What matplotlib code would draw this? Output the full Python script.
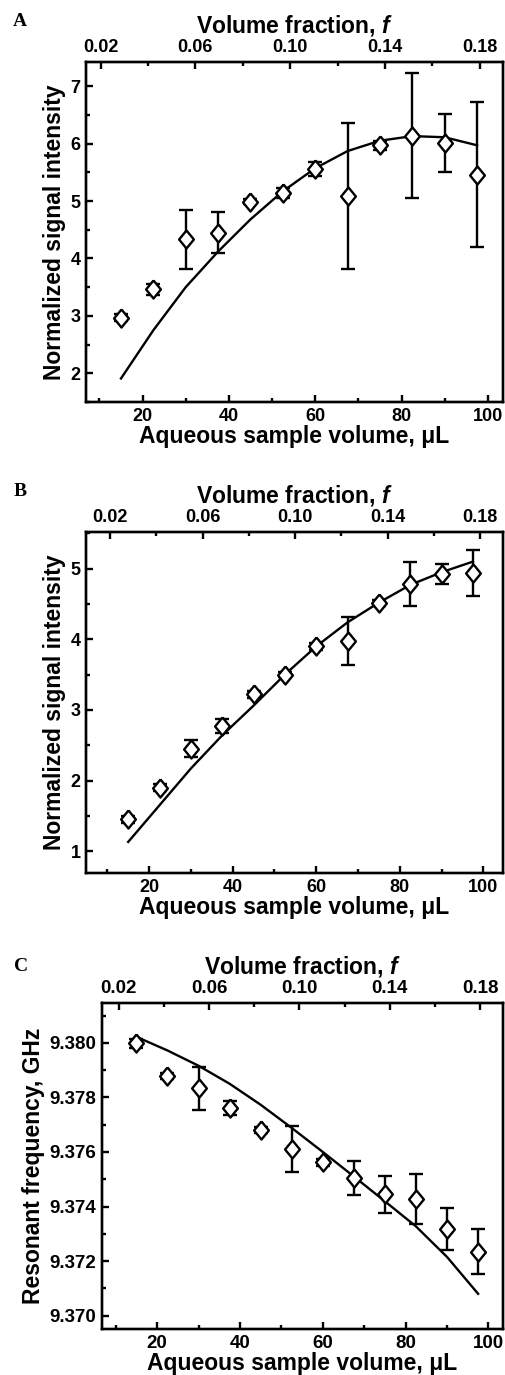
import matplotlib
matplotlib.use("Agg")
import matplotlib.pyplot as plt
import numpy as np
from matplotlib.ticker import MultipleLocator, FixedLocator

plt.rcParams['font.family'] = ['Liberation Sans', 'DejaVu Sans']
plt.rcParams['font.weight'] = 'bold'
plt.rcParams['mathtext.fontset'] = 'custom'
plt.rcParams['mathtext.it'] = 'Liberation Sans:italic:bold'
plt.rcParams['mathtext.rm'] = 'Liberation Sans:bold'

# aqueous sample volume, uL
volume = [15, 22.5, 30, 37.5, 45, 52.5, 60, 67.5, 75, 82.5, 90, 97.5]

# panel A: normalized signal intensity
sig_a = [2.97, 3.46, 4.33, 4.45, 4.99, 5.14, 5.56, 5.08, 5.97, 6.14, 6.01, 5.46]
err_a = [0.06, 0.09, 0.52, 0.36, 0.04, 0.08, 0.12, 1.27, 0.08, 1.09, 0.50, 1.26]
fit_a = [1.91, 2.75, 3.50, 4.12, 4.68, 5.17, 5.57, 5.87, 6.05, 6.13, 6.11, 5.97]

# panel B: normalized signal intensity
sig_b = [1.45, 1.90, 2.45, 2.77, 3.22, 3.50, 3.90, 3.97, 4.51, 4.78, 4.92, 4.94]
err_b = [0.05, 0.05, 0.12, 0.10, 0.05, 0.04, 0.05, 0.34, 0.04, 0.31, 0.14, 0.33]
fit_b = [1.13, 1.65, 2.17, 2.64, 3.06, 3.50, 3.90, 4.24, 4.52, 4.77, 4.95, 5.10]

# panel C: resonant frequency, GHz
freq_c = [9.37998, 9.37878, 9.37833, 9.37760, 9.37681, 9.37611, 9.37562,
          9.37504, 9.37445, 9.37427, 9.37318, 9.37235]
err_c = [0.00016, 0.00010, 0.00078, 0.00025, 0.00010, 0.00084, 0.00012,
         0.00062, 0.00068, 0.00091, 0.00076, 0.00084]
fit_c = [9.38022, 9.37972, 9.37916, 9.37850, 9.37773, 9.37688, 9.37600,
         9.37510, 9.37419, 9.37327, 9.37215, 9.37080]

# top axis: volume fraction ticks
frac_major = [0.02, 0.06, 0.10, 0.14, 0.18]
frac_minor = [0.04, 0.08, 0.12, 0.16]
frac_labels = ['0.02', '0.06', '0.10', '0.14', '0.18']

diamond = [(0, 1), (0.82, 0), (0, -1), (-0.82, 0), (0, 1)]
LW = 1.7

fig = plt.figure(figsize=(5.05, 13.75), dpi=100)


def panel(rect, y, yerr, fit, xlim, ylim, ymaj, ymin, yfmt, ylabel, fmap, letter, lpos, tsize):
    ax = fig.add_axes(rect)
    ax.plot(volume, fit, color='black', lw=LW, zorder=2)
    ax.errorbar(volume, y, yerr=yerr, fmt='none', ecolor='black', elinewidth=LW,
                capsize=5.2, capthick=LW, zorder=3)
    ax.plot(volume, y, ls='none', marker=diamond, ms=13, mfc='white', mec='black',
            mew=LW, zorder=4)
    ax.set_xlim(*xlim)
    ax.set_ylim(*ylim)
    ax.xaxis.set_major_locator(MultipleLocator(20))
    ax.xaxis.set_minor_locator(MultipleLocator(10))
    ax.yaxis.set_major_locator(MultipleLocator(ymaj))
    ax.yaxis.set_minor_locator(MultipleLocator(ymin))
    ax.yaxis.set_major_formatter(yfmt)
    for s in ax.spines.values():
        s.set_linewidth(LW)
    ax.tick_params(which='both', direction='in', width=LW, labelsize=tsize, pad=4)
    ax.tick_params(which='major', length=5)
    ax.tick_params(which='minor', length=3)
    ax.tick_params(axis='y', which='both', right=False)
    ax.set_xlabel('Aqueous sample volume, μL', fontsize=16.5, fontweight='bold', labelpad=0)
    ax.set_ylabel(ylabel, fontsize=16.5, fontweight='bold', labelpad=3)
    for lab in ax.get_xticklabels() + ax.get_yticklabels():
        lab.set_fontweight('bold')

    top = ax.twiny()
    top.set_xlim(*xlim)
    v0, v1 = fmap
    pos = lambda f: v0 + (f - 0.02) / 0.16 * (v1 - v0)
    top.xaxis.set_major_locator(FixedLocator([pos(f) for f in frac_major]))
    top.xaxis.set_minor_locator(FixedLocator([pos(f) for f in frac_minor]))
    top.set_xticklabels(frac_labels, fontweight='bold')
    top.tick_params(which='both', direction='in', width=LW, labelsize=tsize, pad=4)
    top.tick_params(which='major', length=5)
    top.tick_params(which='minor', length=3)
    top.set_xlabel('Volume fraction, $f$', fontsize=16.5, fontweight='bold', labelpad=5)
    for s in top.spines.values():
        s.set_linewidth(LW)
    fig.text(lpos[0], lpos[1], letter, family='Liberation Serif', fontweight='bold',
             fontsize=14, va='top', ha='left')
    return ax


panel([0.1703, 0.7076, 0.8257, 0.2473], sig_a, err_a, fit_a, (6.9, 103.5), (1.5, 7.42),
      1, 0.5, '{x:.0f}', 'Normalized signal intensity', (10.3, 98.1), 'A',
      (13 / 505, 1 - 13 / 1375), 13)

panel([0.1703, 0.3651, 0.8257, 0.2480], sig_b, err_b, fit_b, (4.9, 104.7), (0.69, 5.52),
      1, 0.5, '{x:.0f}', 'Normalized signal intensity', (10.7, 99.2), 'B',
      (14 / 505, 1 - 483 / 1375), 13)

panel([0.2020, 0.03345, 0.7940, 0.2371], freq_c, err_c, fit_c, (6.7, 103.5),
      (9.36951, 9.38146), 0.002, 0.001, '{x:.3f}', 'Resonant frequency, GHz',
      (10.7, 98.0), 'C', (14 / 505, 1 - 958 / 1375), 13.5)

fig.savefig('out.png', dpi=100)
